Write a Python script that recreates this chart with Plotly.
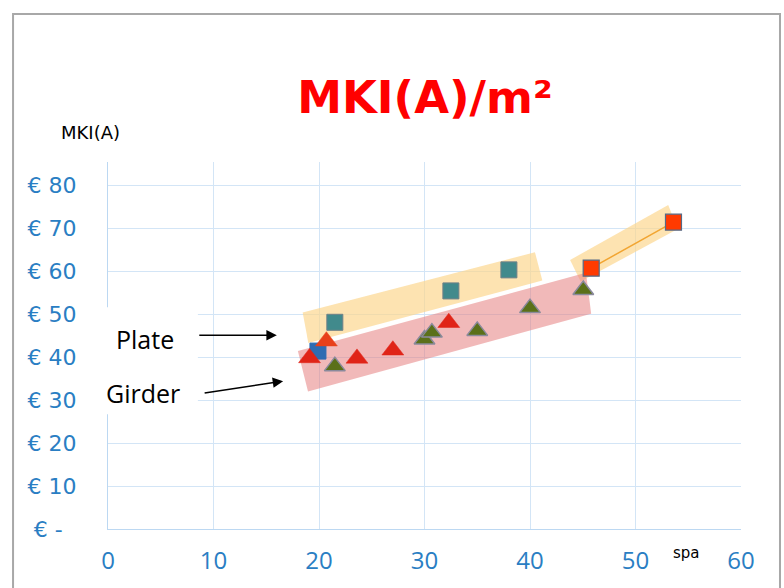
import plotly.graph_objects as go

# Span (x) and MKI(A) cost per m² (y) for each group of designs
plate_sq_x = [21.5, 32.5, 38.0]
plate_sq_y = [48.1, 55.4, 60.3]

blue_sq_x = [19.9]
blue_sq_y = [41.4]

long_sq_x = [45.8, 53.6]
long_sq_y = [60.7, 71.4]

girder_red_x = [19.1, 23.6, 27.0, 32.3]
girder_red_y = [39.8, 39.7, 41.6, 48.0]

girder_orange_x = [20.7]
girder_orange_y = [43.7]

girder_green_x = [21.5, 30.0, 30.7, 35.0, 40.0, 45.05]
girder_green_y = [37.9, 44.1, 45.7, 46.1, 51.4, 55.6]

# Highlight bands (corner points in data units)
plate_band_x = [18.45, 40.47, 41.17, 18.99]
plate_band_y = [50.4, 64.4, 57.8, 43.3]
girder_band_x = [18.0, 45.3, 45.8, 18.96]
girder_band_y = [41.4, 59.6, 50.1, 32.0]
long_band_x = [43.8, 53.1, 54.0, 44.8]
long_band_y = [62.6, 75.4, 69.8, 57.6]

x_ticks = [0, 10, 20, 30, 40, 50, 60]
y_ticks = [0, 10, 20, 30, 40, 50, 60, 70, 80]
y_tick_text = ["€ -\u00a0\u00a0", "€ 10", "€ 20", "€ 30", "€ 40", "€ 50", "€ 60", "€ 70", "€ 80"]

BLUE_TXT = "#2a7ec3"
GRID = "#d3e5f6"

fig = go.Figure()

def band(xs, ys, color):
    fig.add_trace(go.Scatter(
        x=xs + xs[:1], y=ys + ys[:1], mode="lines", fill="toself",
        fillcolor=color, line=dict(width=0), hoverinfo="skip", showlegend=False))

band(plate_band_x, plate_band_y, "rgba(252, 214, 140, 0.68)")
band(long_band_x, long_band_y, "rgba(252, 214, 140, 0.68)")
band(girder_band_x, girder_band_y, "rgba(230, 128, 128, 0.55)")

fig.add_trace(go.Scatter(
    x=long_sq_x, y=long_sq_y, mode="lines+markers",
    line=dict(color="#f2a531", width=1.5),
    marker=dict(symbol="square", size=16, color="#ff3a00",
                line=dict(color="#566a86", width=1.2)),
    showlegend=False))

fig.add_trace(go.Scatter(
    x=plate_sq_x, y=plate_sq_y, mode="markers",
    marker=dict(symbol="square", size=16, color="#418a8c",
                line=dict(color="#6f8088", width=1)),
    showlegend=False))

fig.add_trace(go.Scatter(
    x=blue_sq_x, y=blue_sq_y, mode="markers",
    marker=dict(symbol="square", size=16, color="#2f6cb2",
                line=dict(color="#2f6cb2", width=1)),
    showlegend=False))

fig.add_trace(go.Scatter(
    x=girder_green_x, y=girder_green_y, mode="markers",
    marker=dict(symbol="triangle-up", size=18, color="#5b7019",
                line=dict(color="#8a8a9c", width=1.5)),
    showlegend=False))

fig.add_trace(go.Scatter(
    x=girder_orange_x, y=girder_orange_y, mode="markers",
    marker=dict(symbol="triangle-up", size=19, color="#e8401a",
                line=dict(color="#e8401a", width=0.5)),
    showlegend=False))

fig.add_trace(go.Scatter(
    x=girder_red_x, y=girder_red_y, mode="markers",
    marker=dict(symbol="triangle-up", size=19, color="#e02418",
                line=dict(color="#e02418", width=0.5)),
    showlegend=False))

fig.update_layout(
    width=784, height=588,
    margin=dict(l=108, r=43, t=162, b=59),
    paper_bgcolor="white", plot_bgcolor="white",
    title=dict(text="<b>MKI(A)/m²</b>", xref="container", x=0.542, xanchor="center",
               yref="container", y=0.835, yanchor="middle",
               font=dict(family="DejaVu Sans", size=45, color="#ff0000")),
    xaxis=dict(range=[0, 60], tickvals=x_ticks, showgrid=True, gridcolor=GRID, gridwidth=1,
               zeroline=False, showline=True, linecolor="#bcd8f2", linewidth=1,
               ticks="", ticklabelstandoff=10,
               tickfont=dict(family="Open Sans", size=24, color=BLUE_TXT)),
    yaxis=dict(range=[0, 85.4], tickvals=y_ticks, ticktext=y_tick_text, showgrid=True,
               gridcolor=GRID, gridwidth=1, zeroline=False, showline=True,
               linecolor="#bcd8f2", linewidth=1, ticks="", ticklabelstandoff=26,
               tickfont=dict(family="DejaVu Sans", size=22, color=BLUE_TXT)),
)

# Chart frame
fig.add_shape(type="rect", xref="paper", yref="paper",
              x0=-0.150, x1=1.0616, y0=-0.25, y1=1.403,
              line=dict(color="#a8a8a8", width=2), fillcolor="rgba(0,0,0,0)", layer="above")

# White box behind the group labels
fig.add_shape(type="rect", xref="paper", yref="y",
              x0=-0.013, x1=0.142, y0=26.7, y1=51.6,
              line=dict(width=0), fillcolor="white", layer="above")

fig.add_annotation(text="Plate", xref="paper", yref="y", x=0.058, y=44.2,
                   xanchor="center", yanchor="middle", showarrow=False,
                   font=dict(family="Open Sans", size=25, color="black"))
fig.add_annotation(text="Girder", xref="paper", yref="y", x=0.055, y=31.6,
                   xanchor="center", yanchor="middle", showarrow=False,
                   font=dict(family="Open Sans", size=25, color="black"))

fig.add_annotation(text="", x=16.0, y=45.1, ax=-79, ay=0, showarrow=True,
                   arrowhead=2, arrowsize=1.3, arrowwidth=1.6, arrowcolor="black")
fig.add_annotation(text="", x=16.6, y=34.4, ax=-80, ay=12, showarrow=True,
                   arrowhead=2, arrowsize=1.3, arrowwidth=1.6, arrowcolor="black")

fig.add_annotation(text="MKI(A)", xref="paper", yref="paper", x=-0.027, y=1.081,
                   xanchor="center", yanchor="middle", showarrow=False,
                   font=dict(family="DejaVu Sans", size=18, color="black"))
fig.add_annotation(text="spa", xref="x", yref="paper", x=54.8, y=-0.065,
                   xanchor="center", yanchor="middle", showarrow=False,
                   font=dict(family="DejaVu Sans", size=15, color="black"))

fig.write_html("out.html")
